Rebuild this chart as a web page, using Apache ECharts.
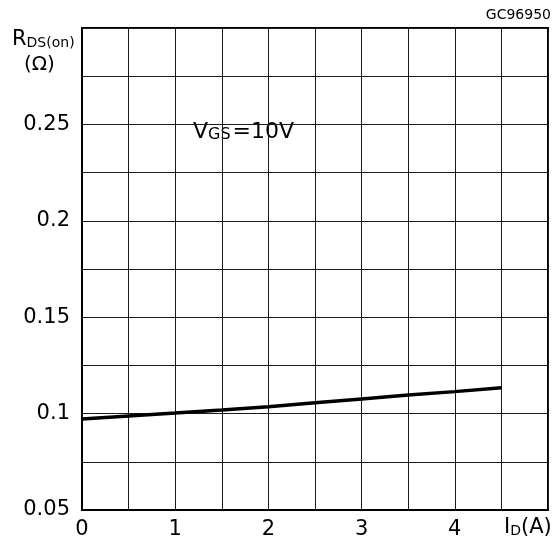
<!DOCTYPE html>
<html><head><meta charset="utf-8">
<script src="https://cdn.jsdelivr.net/npm/echarts@6/dist/echarts.min.js"></script>
<style>html,body{margin:0;padding:0;background:#fff}#c{width:558px;height:542px}</style>
</head><body><div id="c"></div>
<script>
const currentA = [0, 0.5, 1, 1.5, 2, 2.5, 3, 3.5, 4, 4.5];
const rdsOn = [0.0972, 0.0988, 0.1003, 0.1019, 0.1036, 0.1056, 0.1076, 0.1096, 0.1114, 0.1134];
const xTickLabels = ['0', '1', '2', '3', '4'];
const yTickLabels = ['0.05', '0.1', '0.15', '0.2', '0.25'];
const FONT = 'DejaVu Sans';

const chart = echarts.init(document.getElementById('c'), null, {renderer: 'canvas'});
chart.setOption({
  animation: false,
  backgroundColor: '#fff',
  grid: {left: 82, top: 28, right: 10, bottom: 32, show: true, borderColor: '#000', borderWidth: 2, backgroundColor: 'transparent'},
  xAxis: {
    type: 'value', min: 0, max: 5, interval: 0.5,
    axisLine: {show: true, lineStyle: {color: '#000', width: 2}},
    axisTick: {show: false},
    splitLine: {show: true, lineStyle: {color: '#1a1a1a', width: 1}},
    axisLabel: {
      color: '#000', fontFamily: FONT, fontSize: 21, margin: 9,
      formatter: v => { const i = xTickLabels.indexOf(String(v)); return i >= 0 ? xTickLabels[i] : ''; }
    }
  },
  yAxis: {
    type: 'value', min: 0.05, max: 0.3, interval: 0.025,
    axisLine: {show: true, lineStyle: {color: '#000', width: 2}},
    axisTick: {show: false},
    splitLine: {show: true, lineStyle: {color: '#1a1a1a', width: 1}},
    axisLabel: {
      color: '#000', fontFamily: FONT, fontSize: 21, margin: 12, padding: [4, 0, 0, 0],
      formatter: v => { const s = String(parseFloat(v.toFixed(3))); return yTickLabels.indexOf(s) >= 0 ? s : ''; }
    }
  },
  series: [{
    type: 'line', data: currentA.map((x, i) => [x, rdsOn[i]]),
    showSymbol: false, lineStyle: {color: '#000', width: 3.5}
  }],
  graphic: [
    {type: 'text', left: 12, top: 29, style: {
      text: '{a|R}{b|DS(on)}', rich: {
        a: {fontFamily: FONT, fontSize: 21, fill: '#000', verticalAlign: 'bottom'},
        b: {fontFamily: FONT, fontSize: 14, fill: '#000', verticalAlign: 'bottom'}
      }}},
    {type: 'text', left: 24, top: 55, style: {text: '(Ω)', fontFamily: FONT, fontSize: 20, fill: '#000'}},
    {type: 'text', right: 7, top: 8, style: {text: 'GC96950', fontFamily: FONT, fontSize: 14, fill: '#000'}},
    {type: 'text', left: 193, top: 121, style: {
      text: '{a|V}{b|GS}{c|=10V}', rich: {
        a: {fontFamily: FONT, fontSize: 22, fill: '#000', verticalAlign: 'bottom'},
        b: {fontFamily: FONT, fontSize: 16, fill: '#000', verticalAlign: 'bottom'},
        c: {fontFamily: FONT, fontSize: 22, fill: '#000', verticalAlign: 'bottom', padding: [0, 0, 0, 2]}
      }}},
    {type: 'text', left: 504, top: 517, style: {
      text: '{a|I}{b|D}{a|(A)}', rich: {
        a: {fontFamily: FONT, fontSize: 21, fill: '#000', verticalAlign: 'bottom'},
        b: {fontFamily: FONT, fontSize: 14, fill: '#000', verticalAlign: 'bottom'}
      }}}
  ]
});
</script></body></html>
